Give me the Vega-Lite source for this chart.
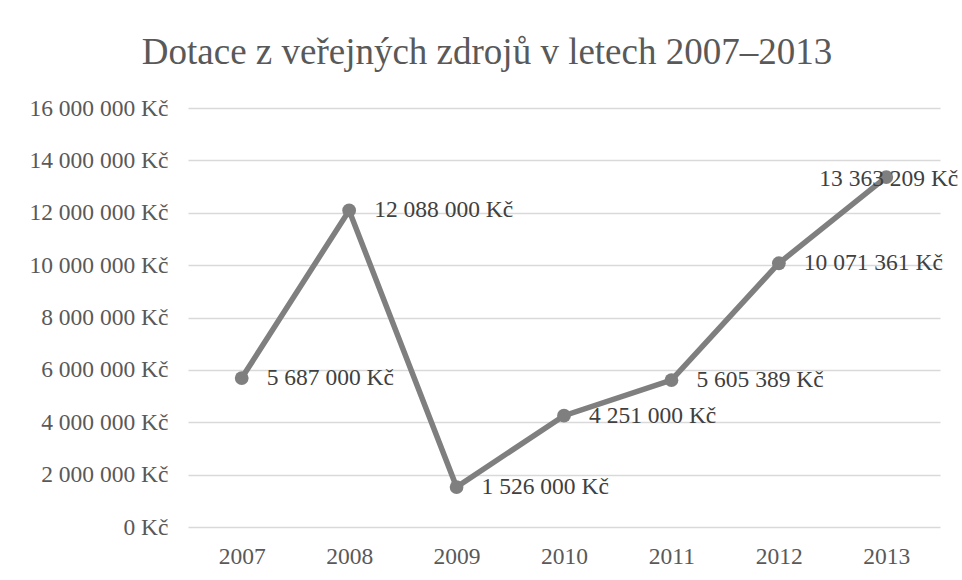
{
  "$schema": "https://vega.github.io/schema/vega-lite/v6.json",
  "width": 752,
  "height": 419,
  "autosize": {"type": "none"},
  "padding": {"left": 188, "top": 108, "right": 22, "bottom": 53},
  "background": "white",
  "title": {
    "text": "Dotace z veřejných zdrojů v letech 2007–2013",
    "font": "Liberation Serif",
    "fontSize": 37,
    "fontWeight": "normal",
    "color": "#595959",
    "anchor": "middle",
    "dx": -77,
    "offset": 24
  },
  "config": {
    "view": {"stroke": null},
    "font": "Liberation Serif"
  },
  "data": {
    "values": [
      {"year": "2007", "value": 5687000},
      {"year": "2008", "value": 12088000},
      {"year": "2009", "value": 1526000},
      {"year": "2010", "value": 4251000},
      {"year": "2011", "value": 5605389},
      {"year": "2012", "value": 10071361},
      {"year": "2013", "value": 13363209}
    ]
  },
  "transform": [
    {"calculate": "replace(replace(format(datum.value, ','), ',', ' '), ',', ' ') + ' Kč'", "as": "label"}
  ],
  "encoding": {
    "x": {
      "field": "year",
      "type": "ordinal",
      "scale": {"type": "point", "padding": 0.5},
      "axis": {
        "title": null,
        "labelAngle": 0,
        "ticks": false,
        "domain": false,
        "grid": false,
        "labelFont": "Liberation Serif",
        "labelFontSize": 23.5,
        "labelColor": "#595959",
        "labelPadding": 17
      }
    },
    "y": {
      "field": "value",
      "type": "quantitative",
      "scale": {"domain": [0, 16000000], "nice": false},
      "axis": {
        "title": null,
        "values": [0, 2000000, 4000000, 6000000, 8000000, 10000000, 12000000, 14000000, 16000000],
        "labelExpr": "replace(replace(format(datum.value, ','), ',', ' '), ',', ' ') + ' Kč'",
        "ticks": false,
        "domain": false,
        "grid": true,
        "gridColor": "#d9d9d9",
        "gridWidth": 1.3,
        "labelFont": "Liberation Serif",
        "labelFontSize": 23.5,
        "labelColor": "#595959",
        "labelPadding": 20
      }
    }
  },
  "layer": [
    {
      "mark": {"type": "line", "color": "#7f7f7f", "strokeWidth": 5.5}
    },
    {
      "mark": {"type": "point", "filled": true, "color": "#7f7f7f", "size": 190, "opacity": 1}
    },
    {
      "transform": [{"filter": "datum.year != '2013'"}],
      "mark": {"type": "text", "align": "left", "baseline": "middle", "dx": 25, "font": "Liberation Serif", "fontSize": 23.5, "color": "#404040"},
      "encoding": {"text": {"field": "label"}}
    },
    {
      "transform": [{"filter": "datum.year == '2013'"}],
      "mark": {"type": "text", "align": "right", "baseline": "middle", "dx": 72, "dy": 2, "font": "Liberation Serif", "fontSize": 23.5, "color": "#404040"},
      "encoding": {"text": {"field": "label"}}
    }
  ]
}
